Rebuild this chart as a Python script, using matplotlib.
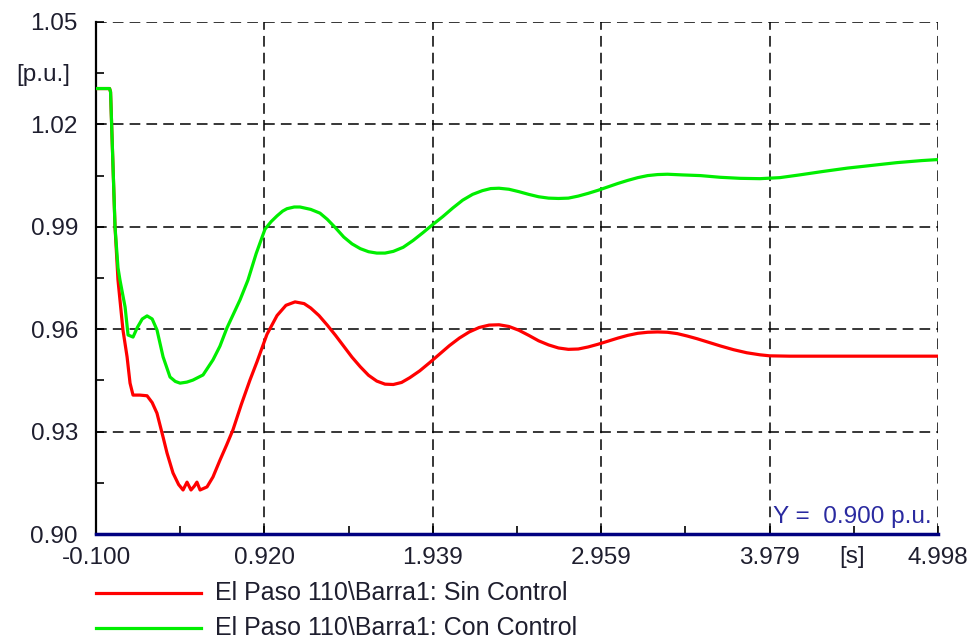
import matplotlib
matplotlib.use("Agg")
import matplotlib.pyplot as plt
from matplotlib.lines import Line2D

plt.rcParams["font.family"] = ["Liberation Sans", "DejaVu Sans"]

# time [s] and voltage [p.u.]
t_sin = [-0.100, -0.018, -0.012, 0.015, 0.033, 0.063, 0.088, 0.106, 0.124, 0.165,
         0.209, 0.240, 0.269, 0.306, 0.330, 0.366, 0.400, 0.427, 0.451, 0.475,
         0.495, 0.511, 0.530, 0.572, 0.608, 0.651, 0.690, 0.729, 0.780, 0.832,
         0.875, 0.935, 0.996, 1.050, 1.105, 1.160, 1.200, 1.250, 1.300, 1.350,
         1.400, 1.450, 1.500, 1.550, 1.600, 1.650, 1.700, 1.750, 1.800, 1.860,
         1.920, 1.980, 2.040, 2.100, 2.160, 2.220, 2.280, 2.340, 2.400, 2.460,
         2.520, 2.580, 2.640, 2.700, 2.760, 2.820, 2.880, 2.940, 3.000, 3.060,
         3.120, 3.180, 3.240, 3.300, 3.360, 3.420, 3.480, 3.540, 3.600, 3.680,
         3.760, 3.840, 3.920, 3.979, 4.100, 4.500, 4.998]
v_sin = [1.0305, 1.0305, 1.0295, 0.9900, 0.9744, 0.9598, 0.9519, 0.9442, 0.9407, 0.9407,
         0.9405, 0.9385, 0.9354, 0.9284, 0.9237, 0.9179, 0.9145, 0.9129, 0.9152, 0.9129,
         0.9140, 0.9152, 0.9129, 0.9138, 0.9167, 0.9217, 0.9260, 0.9305, 0.9380, 0.9451,
         0.9505, 0.9585, 0.9640, 0.9670, 0.9680, 0.9675, 0.9662, 0.9640, 0.9612, 0.9582,
         0.9550, 0.9518, 0.9490, 0.9465, 0.9448, 0.9439, 0.9438, 0.9444, 0.9458, 0.9478,
         0.9502, 0.9527, 0.9552, 0.9574, 0.9592, 0.9605, 0.9612, 0.9613, 0.9608, 0.9597,
         0.9582, 0.9566, 0.9554, 0.9545, 0.9541, 0.9542, 0.9548, 0.9556, 0.9565, 0.9574,
         0.9582, 0.9588, 0.9591, 0.9592, 0.9591, 0.9587, 0.9580, 0.9572, 0.9563, 0.9551,
         0.9540, 0.9531, 0.9525, 0.9522, 0.9521, 0.9521, 0.9521]

t_con = [-0.100, -0.018, -0.012, 0.015, 0.033, 0.045, 0.076, 0.094, 0.124, 0.150,
         0.180, 0.209, 0.240, 0.269, 0.306, 0.348, 0.380, 0.409, 0.450, 0.487,
         0.548, 0.608, 0.650, 0.693, 0.772, 0.820, 0.870, 0.923, 0.960, 0.996,
         1.030, 1.056, 1.100, 1.135, 1.200, 1.256, 1.300, 1.350, 1.400, 1.450,
         1.500, 1.550, 1.600, 1.650, 1.700, 1.760, 1.820, 1.880, 1.940, 2.000,
         2.060, 2.120, 2.180, 2.240, 2.290, 2.340, 2.400, 2.460, 2.520, 2.580,
         2.640, 2.700, 2.760, 2.820, 2.880, 2.940, 3.000, 3.060, 3.120, 3.180,
         3.240, 3.300, 3.360, 3.450, 3.560, 3.680, 3.800, 3.920, 4.040, 4.160,
         4.300, 4.450, 4.600, 4.750, 4.900, 4.998]
v_con = [1.0305, 1.0305, 1.0295, 0.9900, 0.9780, 0.9744, 0.9665, 0.9583, 0.9577, 0.9605,
         0.9630, 0.9639, 0.9630, 0.9598, 0.9519, 0.9460, 0.9447, 0.9442, 0.9445, 0.9451,
         0.9466, 0.9510, 0.9550, 0.9604, 0.9686, 0.9744, 0.9822, 0.9893, 0.9915, 0.9932,
         0.9946, 0.9953, 0.9958, 0.9958, 0.9951, 0.9940, 0.9922, 0.9897, 0.9870, 0.9850,
         0.9836, 0.9827, 0.9823, 0.9823, 0.9828, 0.9840, 0.9860, 0.9883, 0.9907, 0.9930,
         0.9955, 0.9978, 0.9995, 1.0006, 1.0012, 1.0013, 1.0010, 1.0003, 0.9995, 0.9988,
         0.9984, 0.9983, 0.9984, 0.9990, 0.9998, 1.0007, 1.0017, 1.0027, 1.0036, 1.0044,
         1.0050, 1.0053, 1.0054, 1.0052, 1.0050, 1.0045, 1.0042, 1.0041, 1.0044, 1.0052,
         1.0062, 1.0072, 1.0080, 1.0088, 1.0094, 1.0097]

x_ticks = [-0.100, 0.920, 1.939, 2.959, 3.979, 4.998]
x_labels = ["-0.100", "0.920", "1.939", "2.959", "3.979", "4.998"]
y_ticks = [0.90, 0.93, 0.96, 0.99, 1.02, 1.05]
y_labels = ["0.90", "0.93", "0.96", "0.99", "1.02", "1.05"]

labels = ["El Paso 110\\Barra1: Sin Control", "El Paso 110\\Barra1: Con Control"]
colors = ["#ff0000", "#00ee00"]

TXT = "#1e1e2e"
NAVY = "#000080"
FS = 17.5

fig = plt.figure(figsize=(9.67, 6.41), dpi=100)
ax = fig.add_axes([0.0993, 0.1669, 0.8707, 0.7988])

ax.plot(t_sin, v_sin, color=colors[0], lw=2.3, zorder=3)
ax.plot(t_con, v_con, color=colors[1], lw=2.3, zorder=4)

ax.set_xlim(x_ticks[0], x_ticks[-1])
ax.set_ylim(y_ticks[0], y_ticks[-1])
ax.set_xticks(x_ticks)
ax.set_xticklabels(x_labels)
ax.set_yticks(y_ticks)
ax.set_yticklabels(y_labels)
ax.set_xticks([(a + b) / 2 for a, b in zip(x_ticks[:-1], x_ticks[1:])], minor=True)
ax.set_yticks([(a + b) / 2 for a, b in zip(y_ticks[:-1], y_ticks[1:])], minor=True)

ax.grid(True, which="major", color="black", lw=1.1, linestyle=(0, (7, 4)))
ax.tick_params(which="both", direction="in", length=6, width=1.2, color="black",
               labelsize=FS, labelcolor=TXT)
ax.tick_params(axis="y", pad=13)
ax.tick_params(axis="x", pad=9)

for s in ["top", "right"]:
    ax.spines[s].set_visible(False)
ax.spines["left"].set_color("black")
ax.spines["left"].set_linewidth(1.6)
ax.spines["bottom"].set_color(NAVY)
ax.spines["bottom"].set_linewidth(2.5)

ax.text(0.992, 0.012, "Y =  0.900 p.u.", transform=ax.transAxes, ha="right",
        va="bottom", fontsize=FS, color="#2a2aa0")
fig.text(16 / 967, 1 - 75 / 641, "[p.u.]", ha="left", va="center", fontsize=FS, color=TXT)
fig.text(852 / 967, 1 - 557 / 641, "[s]", ha="center", va="center", fontsize=FS, color=TXT)

# legend drawn below the axes
for i, (lab, col) in enumerate(zip(labels, colors)):
    yy = 1 - (593 + 35 * i) / 641
    fig.add_artist(Line2D([96 / 967, 201 / 967], [yy, yy], color=col, lw=2.3))
    fig.text(215 / 967, yy, lab, ha="left", va="center", fontsize=18, color=TXT)

fig.savefig("out.png", dpi=100)
